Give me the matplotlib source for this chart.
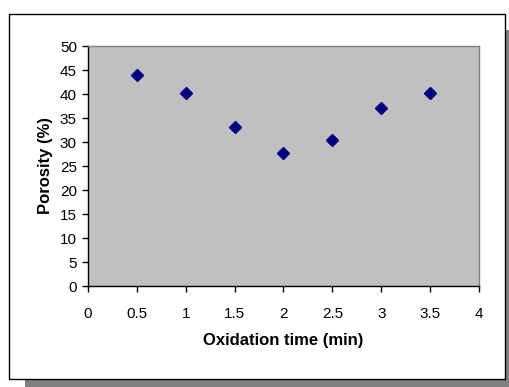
import matplotlib
matplotlib.use("Agg")
import matplotlib.pyplot as plt
from matplotlib.patches import Rectangle

oxidation_time = [0.5, 1.0, 1.5, 2.0, 2.5, 3.0, 3.5]
porosity = [44.0, 40.3, 33.2, 27.8, 30.5, 37.1, 40.3]
x_ticks = [0, 0.5, 1, 1.5, 2, 2.5, 3, 3.5, 4]
x_tick_labels = ["0", "0.5", "1", "1.5", "2", "2.5", "3", "3.5", "4"]
y_ticks = [0, 5, 10, 15, 20, 25, 30, 35, 40, 45, 50]

plt.rcParams['font.family'] = ['Liberation Sans', 'DejaVu Sans']

W, H = 510, 387
fig = plt.figure(figsize=(W / 100, H / 100), dpi=100)
fig.patch.set_facecolor('white')

# shadow and frame
fig.patches.append(Rectangle((25 / W, 1 - 387 / H), (510 - 25) / W, (387 - 30) / H,
                             transform=fig.transFigure, facecolor='#808080',
                             edgecolor='none', zorder=0))
fig.patches.append(Rectangle((9 / W, 1 - 379 / H), (505 - 9) / W, (379 - 14) / H,
                             transform=fig.transFigure, facecolor='white',
                             edgecolor='black', linewidth=1.0, zorder=1))

x0, x1, y0, y1 = 88, 479, 46, 286
ax = fig.add_axes([x0 / W, 1 - y1 / H, (x1 - x0) / W, (y1 - y0) / H])
ax.set_facecolor('#c0c0c0')
ax.set_zorder(2)

ax.plot(oxidation_time, porosity, linestyle='none', marker='D',
        markersize=6.0, color='#000080', markeredgecolor='#000080')

ax.set_xlim(0, 4)
ax.set_ylim(0, 50)
ax.set_xticks(x_ticks)
ax.set_xticklabels(x_tick_labels)
ax.set_yticks(y_ticks)

for s in ['top', 'right']:
    ax.spines[s].set_color('#808080')
    ax.spines[s].set_linewidth(1.0)
for s in ['left', 'bottom']:
    ax.spines[s].set_color('black')
    ax.spines[s].set_linewidth(1.0)

ax.tick_params(axis='both', direction='out', length=4, width=1, colors='black',
               labelsize=11)
ax.tick_params(axis='x', pad=11)
ax.tick_params(axis='y', pad=4)

ax.set_xlabel('Oxidation time (min)', fontsize=12, fontweight='bold', labelpad=9)
ax.set_ylabel('Porosity (%)', fontsize=12, fontweight='bold', labelpad=5)

fig.savefig('out.png', dpi=100)
